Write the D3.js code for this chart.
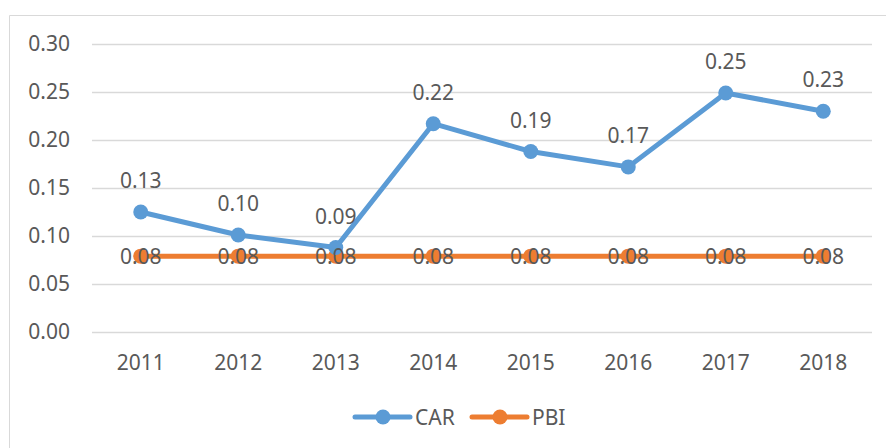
<!DOCTYPE html>
<html>
<head>
<meta charset="utf-8">
<script src="https://cdn.jsdelivr.net/npm/d3@7/dist/d3.min.js"></script>
<style>
  html, body { margin: 0; padding: 0; background: #fff; }
  svg { display: block; font-family: "Noto Sans", "Open Sans", sans-serif; }
</style>
</head>
<body>
<svg id="chart" width="886" height="448"></svg>
<script>
// chart data
const years = ["2011", "2012", "2013", "2014", "2015", "2016", "2017", "2018"];
const carValues = [0.125, 0.101, 0.088, 0.217, 0.188, 0.172, 0.249, 0.230];
const pbiValues = [0.079, 0.079, 0.079, 0.079, 0.079, 0.079, 0.079, 0.079];
const yTicks = [0, 0.05, 0.10, 0.15, 0.20, 0.25, 0.30];

const series = [
    { name: "CAR", values: carValues, color: "#5B9BD5", labelAbove: true },
    { name: "PBI", values: pbiValues, color: "#ED7D31", labelAbove: false }
];

const textColor = "#595959";
const gridColor = "#D9D9D9";
const fontSize = 21;

const svg = d3.select("#chart");

// outer chart frame (only top and left edges show in the picture)
svg.append("path")
    .attr("d", "M9.5,448 L9.5,15.5 L886,15.5")
    .attr("fill", "none")
    .attr("stroke", gridColor)
    .attr("stroke-width", 1);

const x = d3.scaleBand()
    .domain(years)
    .range([92, 872]);

const y = d3.scaleLinear()
    .domain([0, 0.30])
    .range([332, 44]);

// gridlines
svg.append("g")
    .selectAll("line")
    .data(yTicks)
    .join("line")
    .attr("x1", 92)
    .attr("x2", 872)
    .attr("y1", d => Math.round(y(d)) + 0.5)
    .attr("y2", d => Math.round(y(d)) + 0.5)
    .attr("stroke", gridColor)
    .attr("stroke-width", 1.5);

// y axis labels
const yAxis = svg.append("g")
    .attr("transform", "translate(70,0)")
    .call(d3.axisLeft(y).tickValues(yTicks).tickFormat(d3.format(".2f")).tickSize(0).tickPadding(0));
yAxis.select(".domain").remove();
yAxis.selectAll("text")
    .attr("fill", textColor)
    .attr("font-size", fontSize)
    .attr("font-family", "Noto Sans, sans-serif");

// x axis labels
const xAxis = svg.append("g")
    .attr("transform", "translate(0,355)")
    .call(d3.axisBottom(x).tickSize(0).tickPadding(0));
xAxis.select(".domain").remove();
xAxis.selectAll("text")
    .attr("fill", textColor)
    .attr("font-size", fontSize)
    .attr("font-family", "Noto Sans, sans-serif");

const cx = d => x(d) + x.bandwidth() / 2;

const line = d3.line()
    .x((d, i) => cx(years[i]))
    .y(d => y(d));

// draw PBI first so CAR sits on top where they meet
[series[1], series[0]].forEach(s => {
    svg.append("path")
        .datum(s.values)
        .attr("d", line)
        .attr("fill", "none")
        .attr("stroke", s.color)
        .attr("stroke-width", 5)
        .attr("stroke-linejoin", "round")
        .attr("stroke-linecap", "round");

    svg.append("g")
        .selectAll("circle")
        .data(s.values)
        .join("circle")
        .attr("cx", (d, i) => cx(years[i]))
        .attr("cy", d => y(d))
        .attr("r", 7.5)
        .attr("fill", s.color);
});

// data labels
series.forEach(s => {
    svg.append("g")
        .selectAll("text")
        .data(s.values)
        .join("text")
        .attr("x", (d, i) => cx(years[i]))
        .attr("y", d => s.labelAbove ? y(d) - 32 : y(d))
        .attr("text-anchor", "middle")
        .attr("dominant-baseline", "central")
        .attr("fill", textColor)
        .attr("font-size", fontSize)
        .text(d => d3.format(".2f")(d));
});

// legend
const legendItems = [
    { name: "CAR", color: "#5B9BD5", x: 355 },
    { name: "PBI", color: "#ED7D31", x: 472 }
];
const legend = svg.append("g");
legendItems.forEach(item => {
    const g = legend.append("g").attr("transform", `translate(${item.x},417)`);
    g.append("line")
        .attr("x1", 0).attr("x2", 55)
        .attr("y1", 0).attr("y2", 0)
        .attr("stroke", item.color)
        .attr("stroke-width", 5)
        .attr("stroke-linecap", "round");
    g.append("circle")
        .attr("cx", 28).attr("cy", 0)
        .attr("r", 7.5)
        .attr("fill", item.color);
    g.append("text")
        .attr("x", 60).attr("y", 0)
        .attr("dominant-baseline", "central")
        .attr("fill", textColor)
        .attr("font-size", fontSize)
        .text(item.name);
});
</script>
</body>
</html>
